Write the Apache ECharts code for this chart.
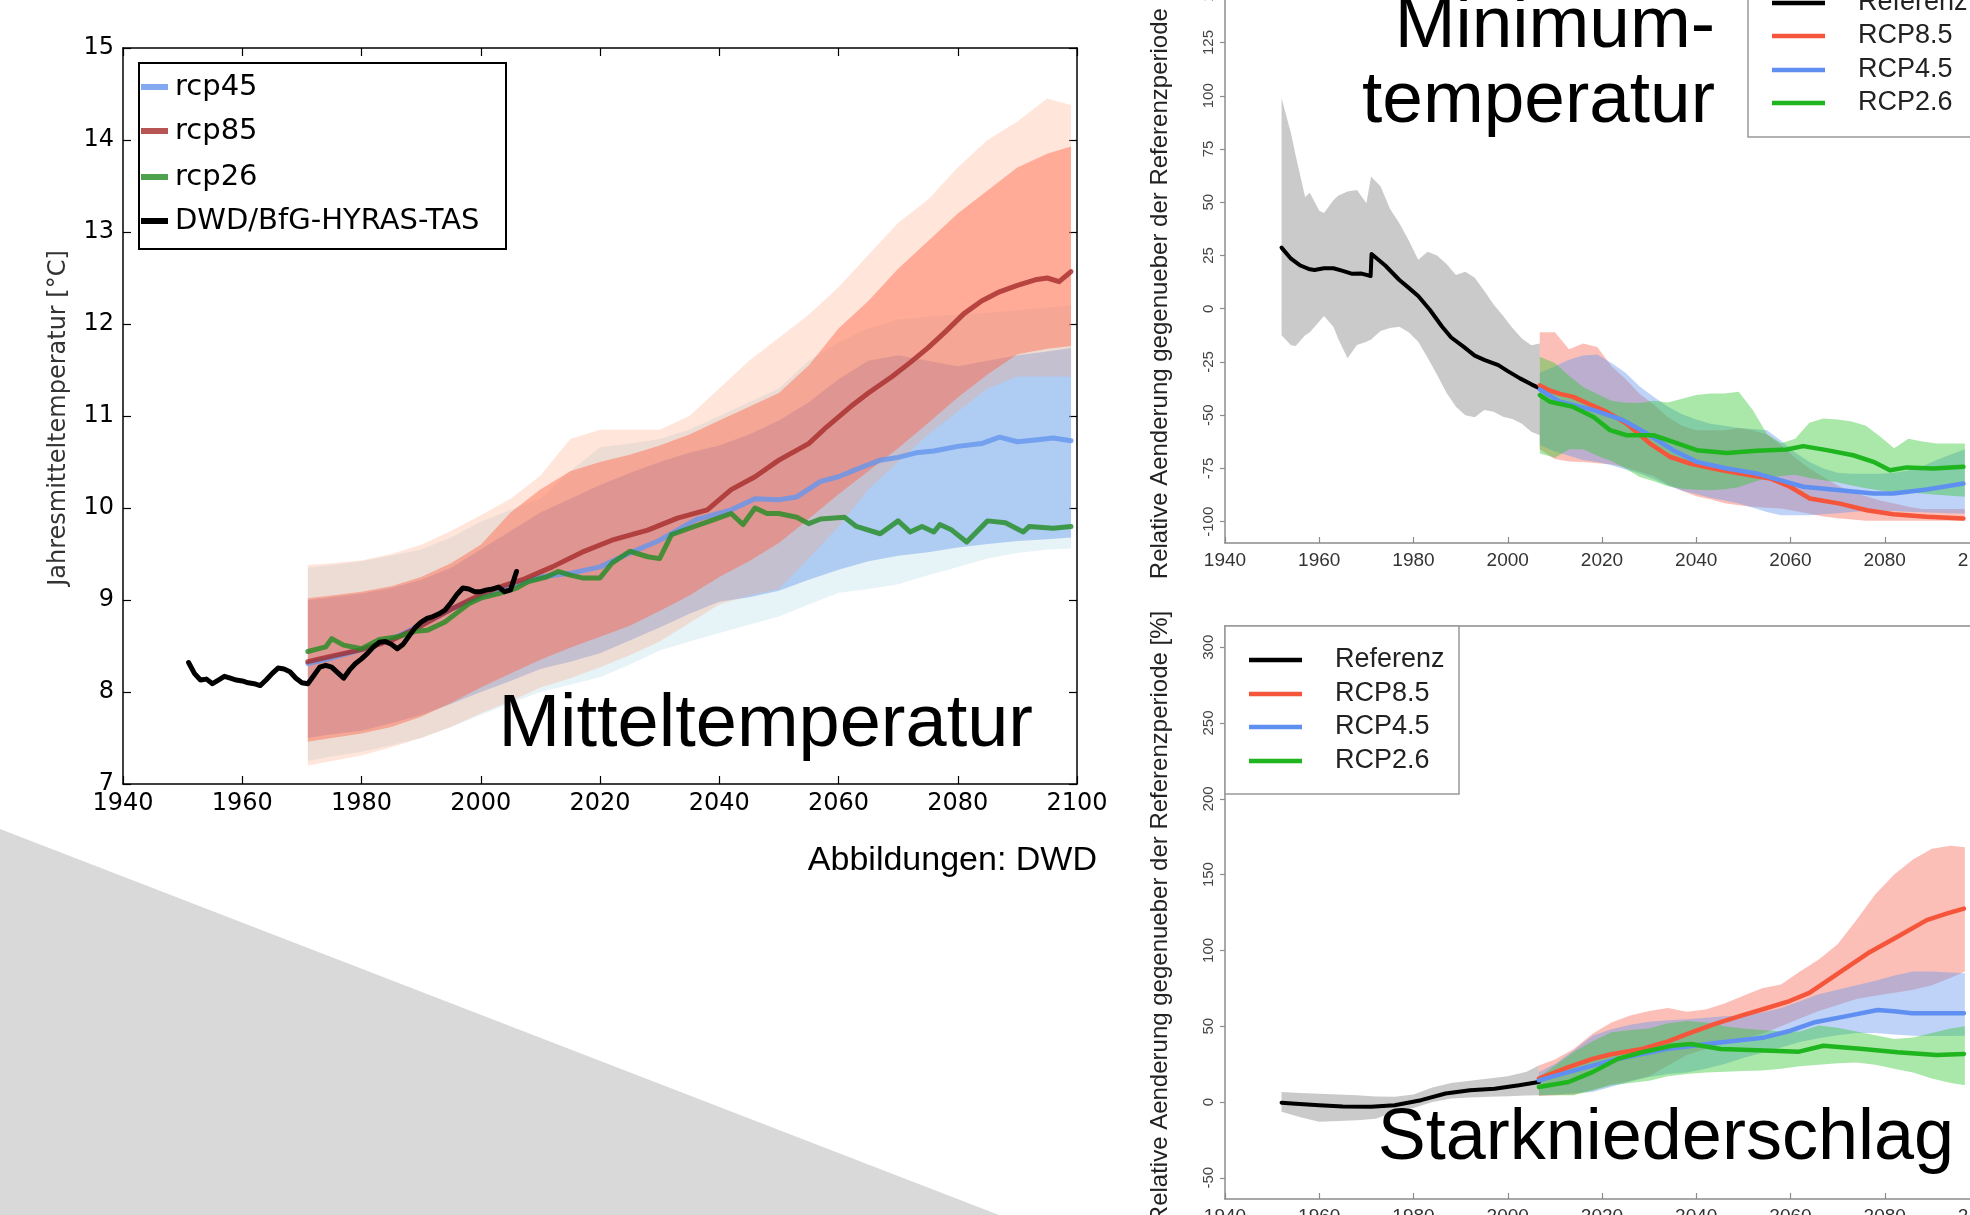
<!DOCTYPE html>
<html><head><meta charset="utf-8">
<script src="https://cdn.jsdelivr.net/npm/echarts@6/dist/echarts.min.js"></script>
<style>html,body{margin:0;padding:0;background:#fff}#c{width:1970px;height:1215px}</style>
</head><body><div id="c"></div><script>
// ---------------- LEFT: Mitteltemperatur ----------------
const meanBandYears = [1971,1975,1980,1985,1990,1995,2000,2005,2010,2015,2020,2025,2030,2035,2040,2045,2050,2055,2060,2065,2070,2075,2080,2085,2090,2095,2099];
const rcp85OuterLo = [7.20,7.25,7.31,7.40,7.50,7.62,7.77,7.90,8.05,8.15,8.27,8.40,8.55,8.75,8.95,9.05,9.12,9.45,9.80,10.20,10.50,10.80,11.05,11.30,11.43,11.43,11.43];
const rcp85OuterUp = [9.38,9.40,9.43,9.50,9.60,9.75,9.92,10.10,10.35,10.75,10.85,10.85,10.85,11.00,11.30,11.60,11.85,12.10,12.40,12.75,13.10,13.35,13.70,14.00,14.20,14.45,14.38];
const rcp85InnerLo = [7.46,7.50,7.55,7.62,7.73,7.88,8.05,8.20,8.35,8.48,8.60,8.72,8.88,9.05,9.25,9.42,9.62,9.88,10.15,10.40,10.65,10.92,11.20,11.45,11.67,11.73,11.76];
const rcp85InnerUp = [9.02,9.05,9.09,9.15,9.25,9.40,9.60,9.95,10.20,10.40,10.50,10.58,10.68,10.80,10.95,11.10,11.25,11.55,11.95,12.25,12.60,12.90,13.20,13.45,13.70,13.85,13.93];
const rcp45OuterLo = [7.25,7.30,7.35,7.42,7.50,7.62,7.75,7.88,8.00,8.08,8.16,8.30,8.45,8.55,8.64,8.73,8.82,8.95,9.08,9.12,9.17,9.27,9.36,9.45,9.51,9.55,9.56];
const rcp45OuterUp = [9.35,9.38,9.42,9.48,9.55,9.68,9.85,9.98,10.10,10.40,10.66,10.70,10.75,10.85,11.00,11.15,11.30,11.60,11.80,11.95,12.05,12.08,12.10,12.12,12.15,12.18,12.20];
const rcp45InnerLo = [7.50,7.54,7.58,7.66,7.75,7.87,8.00,8.12,8.25,8.33,8.42,8.56,8.70,8.85,8.98,9.03,9.10,9.22,9.33,9.42,9.48,9.52,9.57,9.61,9.64,9.66,9.68];
const rcp45InnerUp = [9.00,9.03,9.07,9.13,9.22,9.35,9.55,9.75,9.95,10.10,10.25,10.38,10.50,10.60,10.68,10.80,10.95,11.15,11.40,11.60,11.66,11.60,11.54,11.60,11.66,11.70,11.74];

const obsYears = [1951,1952,1953,1954,1955,1956,1957,1958,1959,1960,1961,1962,1963,1964,1965,1966,1967,1968,1969,1970,1971,1972,1973,1974,1975,1976,1977,1978,1979,1980,1981,1982,1983,1984,1985,1986,1987,1988,1989,1990,1991,1992,1993,1994,1995,1996,1997,1998,1999,2000,2001,2002,2003,2004,2005,2006];
const obsTemp = [8.32,8.20,8.13,8.14,8.09,8.13,8.17,8.15,8.13,8.12,8.10,8.09,8.07,8.13,8.20,8.26,8.25,8.22,8.15,8.10,8.09,8.18,8.27,8.29,8.27,8.21,8.15,8.24,8.31,8.36,8.42,8.49,8.54,8.55,8.52,8.47,8.52,8.61,8.70,8.76,8.80,8.82,8.85,8.89,8.97,9.06,9.13,9.12,9.09,9.09,9.11,9.12,9.14,9.09,9.11,9.31];

const rcp85Years = [1971,1975,1980,1985,1990,1995,2000,2004,2007,2012,2017,2022,2028,2033,2038,2042,2046,2050,2055,2058,2062,2065,2069,2072,2075,2078,2081,2084,2087,2090,2093,2095,2097,2099];
const rcp85Temp  = [8.33,8.39,8.46,8.56,8.72,8.90,9.06,9.16,9.22,9.36,9.52,9.65,9.76,9.89,9.98,10.20,10.34,10.52,10.70,10.88,11.10,11.25,11.43,11.58,11.74,11.92,12.11,12.25,12.35,12.42,12.48,12.50,12.46,12.57];
const rcp45Years = [1971,1975,1980,1985,1990,1995,2000,2005,2010,2015,2020,2025,2030,2036,2042,2046,2050,2053,2057,2060,2063,2067,2070,2073,2076,2080,2084,2087,2090,2093,2096,2099];
const rcp45Temp  = [8.31,8.37,8.46,8.57,8.73,8.90,9.04,9.15,9.25,9.29,9.36,9.51,9.65,9.87,9.98,10.10,10.09,10.12,10.29,10.34,10.42,10.52,10.55,10.60,10.62,10.67,10.70,10.77,10.72,10.74,10.76,10.73];
const rcp26Years = [1971,1974,1975,1977,1980,1983,1986,1989,1991,1994,1996,1998,2000,2003,2006,2008,2011,2013,2015,2017,2020,2022,2025,2028,2030,2032,2035,2039,2042,2044,2046,2048,2050,2053,2055,2057,2061,2063,2067,2070,2072,2074,2076,2077,2079,2081.5,2085,2088,2091,2092,2096,2099];
const rcp26Temp  = [8.44,8.49,8.58,8.51,8.47,8.57,8.60,8.66,8.67,8.76,8.86,8.96,9.02,9.07,9.13,9.20,9.25,9.31,9.27,9.24,9.24,9.40,9.53,9.47,9.45,9.71,9.78,9.87,9.94,9.82,10.00,9.94,9.94,9.90,9.83,9.88,9.90,9.80,9.72,9.86,9.74,9.80,9.74,9.82,9.76,9.63,9.86,9.84,9.74,9.80,9.78,9.80];

// ---------------- RIGHT TOP: Minimumtemperatur ----------------
const minRefYears = [1952,1954,1956,1958,1959,1961,1963,1965,1967,1969,1970.9,1971.1,1974,1977,1979,1981,1983.5,1986,1988,1990.6,1993,1995,1998,2000,2002.6,2005,2006.8];
const minRef      = [28.7,23.5,20.3,18.5,18.2,19.0,19.0,17.8,16.4,16.5,15.4,25.7,20.3,13.5,9.8,6.0,-0.6,-8.2,-13.5,-17.8,-22.0,-24.0,-26.5,-29.3,-32.7,-35.5,-37.4];
const minRefBandYears = [1952,1954,1955,1957,1958,1960,1961,1963,1964,1966,1968,1970,1971,1973,1975,1977,1979,1981,1983,1985,1987,1989,1991,1993,1995,1997,1999,2001,2003,2005,2006.8];
const minRefUp = [98.9,82.4,72.0,52.5,54.5,46.0,45.0,51.0,53.0,55.0,55.8,49.5,62.0,57.5,47.0,40.1,32.0,23.0,26.8,25.0,21.0,15.8,17.4,14.5,8.5,2.0,-3.3,-9.0,-14.0,-17.1,-16.3];
const minRefLo = [-12.4,-17.1,-17.5,-12.4,-11.0,-6.0,-3.4,-8.5,-14.0,-23.3,-17.0,-15.5,-14.5,-10.5,-9.0,-8.5,-11.0,-15.5,-23.0,-31.0,-39.5,-46.0,-50.0,-51.0,-47.5,-48.4,-50.7,-51.8,-54.0,-57.8,-59.4];

const minProjYears = [2006.8,2010,2013,2016,2019,2022,2025,2028,2031,2034,2037,2040,2043,2046,2049,2052,2055,2058,2061,2064,2067,2070,2073,2076,2079,2082,2085,2088,2091,2094,2097];
const min85Up = [-11,-11,-19,-16.3,-18,-27,-33,-40,-45,-51,-55,-57,-57,-57,-56,-57,-59,-64,-70,-75,-79,-83,-86,-88,-90,-91.5,-93,-94,-94,-94,-94];
const min85Lo = [-66,-70.5,-71.7,-72,-72.5,-73,-74.5,-76.5,-78.5,-82.5,-85.5,-88,-89.5,-91.3,-92.3,-93,-93.4,-93.8,-95,-96.3,-97.5,-98.4,-99,-99.5,-99.6,-99.6,-99.6,-99.6,-99.6,-99.6,-99.6];
const min45Up = [-30,-27,-24,-22,-21.5,-25.5,-30,-36.5,-41.5,-46,-49.5,-52,-54,-55,-56,-56.5,-57,-62,-67.5,-72,-75,-77,-77.5,-77.5,-77.5,-77,-76,-74,-71,-68.5,-66];
const min45Lo = [-64,-67,-69,-71,-72,-73.5,-75.5,-77.4,-80,-83,-85.5,-87,-88.7,-90,-91.5,-93.5,-95.5,-97,-97,-97,-96.5,-96,-95.5,-95,-95,-95,-95.3,-95.6,-95.8,-96,-96.1];
const min26Up = [-22.5,-25.5,-31.5,-36.7,-40,-43.2,-44.2,-44.3,-43.2,-44,-42.3,-40.5,-39.8,-39.8,-39,-47.6,-58.8,-63.2,-61,-53.5,-51.5,-52,-53,-55,-60,-65.5,-61,-62.3,-63.3,-63.3,-63.3];
const min26Lo = [-68,-70,-66,-66,-69,-71.5,-75,-79,-81,-83.3,-84.5,-85,-85.2,-84.8,-83.8,-81.5,-79.5,-78.5,-78,-79.5,-80.5,-81.5,-83,-84.3,-85.3,-86,-86.3,-86.8,-87.3,-87.8,-88.3];

const min85Years = [2006.8,2009,2011.1,2013.9,2017,2021,2025.2,2030.2,2034.4,2038.7,2043.6,2049.3,2055.7,2059.9,2064.1,2070.5,2076.2,2081.8,2088.9,2096.7];
const min85 = [-36,-38.5,-40,-41.4,-44.5,-48.4,-53.9,-63.3,-69.5,-72.7,-75.0,-77.4,-79.7,-83.6,-89.1,-91.5,-94.6,-96.5,-97.7,-98.5];
const min45Years = [2006.8,2011.1,2018.2,2024.5,2029.5,2035.1,2040.1,2046.5,2052.8,2057.8,2062.7,2070.5,2077.6,2081.8,2088.9,2096.7];
const min45 = [-37.9,-43.7,-47.6,-52.3,-58.6,-66.4,-71.9,-75.0,-77.4,-80.5,-83.6,-85.2,-86.8,-86.8,-84.9,-82.1];
const min26Years = [2006.8,2009,2013.9,2018.2,2021.7,2025.2,2030.9,2035.1,2040.1,2046.5,2052.8,2059.2,2062.7,2067.7,2073.3,2077.6,2081.1,2084.7,2090.3,2096.7];
const min26 = [-40.6,-43.7,-46.1,-50.8,-57.0,-59.4,-59.4,-62.5,-66.4,-67.7,-66.7,-66.1,-64.5,-66.4,-68.8,-71.9,-75.8,-74.5,-75.0,-74.2];
const minYTicks = [-100,-75,-50,-25,0,25,50,75,100,125,150];

// ---------------- RIGHT BOTTOM: Starkniederschlag ----------------
const preRefYears = [1952,1955,1960,1965,1971,1976,1981.6,1986.8,1992,1997.2,2002.4,2006.6];
const preRef = [-0.5,-1.2,-2.1,-2.9,-3.2,-2.1,1.2,5.6,7.7,8.8,11.0,13.2];
const preRefBandYears = [1952,1956,1960,1964,1968,1972,1976,1980,1984,1988,1992,1996,2000,2004,2006.6];
const preRefUp = [6.6,6.0,5.5,5.0,4.5,3.6,3.4,5.0,9.5,12.5,14.0,15.5,17.0,20.0,24.1];
const preRefLo = [-6.4,-10,-13,-12.5,-12,-11,-6.4,-4,0,2.3,3.0,3.4,3.8,4.2,4.5];

const preProjYears = [2006.6,2010,2014,2018,2022,2026,2030,2034,2038,2042,2046,2050,2054,2058,2062,2066,2070,2074,2078,2082,2086,2090,2094,2097];
const pre85Up = [24,28,35,45,52.5,57,60,62,59.5,61,65,70,75,77.5,86,94,104,120,137,150,160,167,169,168];
const pre85Lo = [4,4.5,5,8,11.5,14,17,24,31,35,39,42,45,50,55,60,64,68,70,72,74,77,82,86];
const pre45Up = [19.7,25,34,43.7,48,51,53,54,54.5,55.5,56.5,57,59,62,66.5,71,74,77,80,83.5,86,86,85.5,85];
const pre45Lo = [4.5,5,5.8,6.6,10,13.5,16.5,18.5,19.5,22,25,29,32.5,36,39.5,42,44,45.5,45.5,44.5,43.7,43.5,43.5,43.7];
const pre26Up = [16.5,24,33,40,46,47.5,48.5,52,53.5,52.5,50,48.5,47.5,46.5,46.5,50.5,49,46.5,44,41.5,42.5,45.5,48.5,50];
const pre26Lo = [4.5,4.5,4.5,7.5,11,12.5,14,17,18.5,19.5,20,20.5,20.8,22,23.5,24.5,25.5,26,24.5,22,19.5,15.5,12.5,11];

const pre85Years = [2006.6,2012.9,2018,2022,2028.5,2034,2039,2044,2049.4,2054.5,2059.8,2064,2070.2,2076.4,2082.7,2088.9,2093.1,2096.8];
const pre85 = [15.4,23.0,28.4,31.5,35,40,45.9,51.5,56.8,61.5,66.6,72,85,98.1,109,120,124.3,127.6];
const pre45Years = [2006.6,2012.9,2023.3,2033.7,2044.1,2054.5,2060,2064.9,2072.2,2078.5,2082,2085.8,2096.8];
const pre45 = [14.3,19.7,28.4,35,38.9,42.6,47,52.4,56.8,60.7,59.8,58.5,58.5];
const pre26Years = [2006.6,2012.9,2018,2023.3,2028.5,2034.8,2038.9,2045.2,2054.5,2061.8,2067,2075.4,2082.7,2091,2096.8];
const pre26 = [9.9,13.2,19.7,28.4,32.8,37.1,38.2,35.0,33.9,33.2,37.1,35.0,32.8,31.0,31.7];
const preYTicks = [-50,0,50,100,150,200,250,300];

// ---------------- build ----------------
const P = (xs, ys) => xs.map((x, i) => [x, ys[i]]);
function band(xi, yi, xs, lo, hi, color, id) {
  return {type:'custom', name:id, xAxisIndex:xi, yAxisIndex:yi, data:P(xs, lo), silent:true, clip:true, z:2,
    renderItem:function (params, api) {
      if (params.dataIndex !== 0) return null;
      const pts = [];
      for (let i = 0; i < xs.length; i++) pts.push(api.coord([xs[i], hi[i]]));
      for (let i = xs.length - 1; i >= 0; i--) pts.push(api.coord([xs[i], lo[i]]));
      return {type:'polygon', shape:{points:pts}, style:{fill:color, stroke:null}};
    }};
}
function line(xi, yi, xs, ys, color, w, op, name, z) {
  return {type:'line', name:name, xAxisIndex:xi, yAxisIndex:yi, data:P(xs, ys), symbol:'none',
    lineStyle:{color:color, width:w, opacity:op, cap:'round', join:'round'}, silent:true, z:z};
}

const series = [];
series.push(band(0,0, meanBandYears, rcp45OuterLo, rcp45OuterUp, 'rgba(173,216,230,0.30)', 'rcp45o'));
series.push(band(0,0, meanBandYears, rcp45InnerLo, rcp45InnerUp, 'rgba(100,149,237,0.42)', 'rcp45i'));
series.push(band(0,0, meanBandYears, rcp85OuterLo, rcp85OuterUp, 'rgba(255,160,122,0.28)', 'rcp85o'));
series.push(band(0,0, meanBandYears, rcp85InnerLo, rcp85InnerUp, 'rgba(255,99,71,0.45)', 'rcp85i'));
series.push(line(0,0, rcp45Years, rcp45Temp, '#6495ed', 5, 0.8, 'rcp45', 3));
series.push(line(0,0, rcp85Years, rcp85Temp, '#a52a2a', 5, 0.8, 'rcp85', 3));
series.push(line(0,0, rcp26Years, rcp26Temp, '#228b22', 5, 0.8, 'rcp26', 3));
series.push(line(0,0, obsYears, obsTemp, '#000000', 5, 1, 'DWD/BfG-HYRAS-TAS', 4));

series.push(band(2,2, minRefBandYears, minRefLo, minRefUp, 'rgba(150,150,150,0.5)', 'minref'));
series.push(band(2,2, minProjYears, min85Lo, min85Up, 'rgba(250,128,114,0.5)', 'min85'));
series.push(band(2,2, minProjYears, min45Lo, min45Up, 'rgba(100,149,237,0.42)', 'min45'));
series.push(band(2,2, minProjYears, min26Lo, min26Up, 'rgba(50,200,50,0.42)', 'min26'));
series.push(line(2,2, minRefYears, minRef, '#000', 4, 1, 'Referenz', 4));
series.push(line(2,2, min85Years, min85, '#f5553a', 4.5, 1, 'RCP8.5', 4));
series.push(line(2,2, min45Years, min45, '#5f8ff0', 4.5, 1, 'RCP4.5', 4));
series.push(line(2,2, min26Years, min26, '#1fb51f', 4.5, 1, 'RCP2.6', 4));

series.push(band(4,4, preRefBandYears, preRefLo, preRefUp, 'rgba(150,150,150,0.5)', 'preref'));
series.push(band(4,4, preProjYears, pre85Lo, pre85Up, 'rgba(250,128,114,0.5)', 'pre85'));
series.push(band(4,4, preProjYears, pre45Lo, pre45Up, 'rgba(100,149,237,0.42)', 'pre45'));
series.push(band(4,4, preProjYears, pre26Lo, pre26Up, 'rgba(50,200,50,0.42)', 'pre26'));
series.push(line(4,4, preRefYears, preRef, '#000', 4, 1, 'Referenz', 4));
series.push(line(4,4, pre85Years, pre85, '#f5553a', 4.5, 1, 'RCP8.5', 4));
series.push(line(4,4, pre45Years, pre45, '#5f8ff0', 4.5, 1, 'RCP4.5', 4));
series.push(line(4,4, pre26Years, pre26, '#1fb51f', 4.5, 1, 'RCP2.6', 4));

const LF = 'DejaVu Sans';
const RF = 'Liberation Sans';
const yearFmt = v => String(v);
function leftX(pos, labels) {
  return {type:'value', gridIndex:0, position:pos, min:1940, max:2100, interval:20,
    axisLine:{onZero:false, lineStyle:{color:'#000', width:1.5}},
    axisTick:{show:true, inside:true, length:8, lineStyle:{color:'#000', width:1.2}},
    axisLabel:{show:labels, formatter:yearFmt, fontFamily:LF, fontSize:24, color:'#000', margin:8},
    splitLine:{show:false}};
}
function leftY(pos, labels) {
  return {type:'value', gridIndex:0, position:pos, min:7, max:15, interval:1,
    axisLine:{onZero:false, lineStyle:{color:'#000', width:1.5}},
    axisTick:{show:true, inside:true, length:8, lineStyle:{color:'#000', width:1.2}},
    axisLabel:{show:labels, fontFamily:LF, fontSize:24, color:'#000', margin:9},
    splitLine:{show:false}};
}
function rightX(g, pos, main) {
  return {type:'value', gridIndex:g, position:pos, min:1940, max:2100, interval:20,
    axisLine:{onZero:false, lineStyle:{color:'#8c8c8c', width:1.5}},
    axisTick:{show:main, inside:true, length:6, lineStyle:{color:'#8c8c8c', width:1.2}},
    axisLabel:{show:main, formatter:yearFmt, fontFamily:RF, fontSize:19, color:'#333', margin:8},
    splitLine:{show:false}};
}
function rightY(g, pos, main, mn, mx, ticks) {
  return {type:'value', gridIndex:g, position:pos, min:mn, max:mx,
    axisLine:{onZero:false, lineStyle:{color:'#8c8c8c', width:1.5}},
    axisTick:{show:main, inside:false, length:5, customValues:ticks, lineStyle:{color:'#8c8c8c', width:1.2}},
    axisLabel:{show:main, rotate:90, customValues:ticks, fontFamily:RF, fontSize:15, color:'#444', margin:9},
    splitLine:{show:false}};
}

const T = (x, y, text, size, fam, color, align, rot, z) => ({
  type:'text', x:x, y:y, rotation:rot || 0, z:z || 100,
  style:{text:text, fontSize:size, fontFamily:fam, fill:color,
    textAlign:align, align:align, textVerticalAlign:'middle', verticalAlign:'middle'}
});
const L = (x1, y1, x2, y2, color, w, op) => ({type:'line', z:101,
  shape:{x1:x1, y1:y1, x2:x2, y2:y2}, style:{stroke:color, lineWidth:w, opacity:op == null ? 1 : op}});
const R = (x, y, w, h, stroke, lw) => ({type:'rect', z:99, shape:{x:x, y:y, width:w, height:h},
  style:{fill:'#fff', stroke:stroke, lineWidth:lw}});

const leftLegend = [['rcp45','#6495ed',0.8],['rcp85','#a52a2a',0.8],['rcp26','#228b22',0.8],['DWD/BfG-HYRAS-TAS','#000',1]];
const leftLegendY = [87, 131, 177, 221];
const rightLegend = [['Referenz','#000'],['RCP8.5','#f5553a'],['RCP4.5','#5f8ff0'],['RCP2.6','#1fb51f']];

const graphic = [];
graphic.push({type:'polygon', z:-10, shape:{points:[[0,829],[0,1215],[999,1215]]}, style:{fill:'#d9d9d9'}});
graphic.push(R(139, 63, 367, 186, '#000', 2));
leftLegend.forEach((e, i) => {
  graphic.push(L(141, leftLegendY[i], 168, leftLegendY[i], e[1], 6, e[2]));
  graphic.push(T(175, leftLegendY[i], e[0], 29, LF, '#000', 'left', 0, 102));
});
graphic.push(T(59, 418, 'Jahresmitteltemperatur [°C]', 24, LF, '#333', 'center', Math.PI / 2));
graphic.push(T(1033, 726, 'Mitteltemperatur', 74, RF, '#000', 'right'));
graphic.push(T(1097, 861, 'Abbildungen: DWD', 34, RF, '#000', 'right'));
graphic.push(R(1748, -20, 260, 157, '#999', 1.5));
[3, 36, 70, 103].forEach((y, i) => {
  graphic.push(L(1772, y, 1825, y, rightLegend[i][1], 4.5));
  graphic.push(T(1858, y, rightLegend[i][0], 27, RF, '#222', 'left', 0, 102));
});
graphic.push(T(1715, 27, 'Minimum-', 73, RF, '#000', 'right'));
graphic.push(T(1715, 102, 'temperatur', 73, RF, '#000', 'right'));
graphic.push(T(1160, 273, 'Relative Aenderung gegenueber der Referenzperiode [%]', 24, RF, '#222', 'center', Math.PI / 2));
graphic.push(R(1225, 626, 234, 168, '#999', 1.5));
[660, 694, 727, 761].forEach((y, i) => {
  graphic.push(L(1249, y, 1302, y, rightLegend[i][1], 4.5));
  graphic.push(T(1335, y, rightLegend[i][0], 27, RF, '#222', 'left', 0, 102));
});
graphic.push(T(1954, 1139, 'Starkniederschlag', 72, RF, '#000', 'right'));
graphic.push(T(1160, 917, 'Relative Aenderung gegenueber der Referenzperiode [%]', 24, RF, '#222', 'center', Math.PI / 2));

const chart = echarts.init(document.getElementById('c'), null, {renderer:'canvas', width:1970, height:1215});
chart.setOption({
  animation:false,
  backgroundColor:'#ffffff',
  grid:[
    {left:123, top:48, width:954, height:736, containLabel:false, outerBoundsMode:'none'},
    {left:1225, top:-32, width:754, height:575, containLabel:false, outerBoundsMode:'none'},
    {left:1225, top:626, width:754, height:573, containLabel:false, outerBoundsMode:'none'}
  ],
  xAxis:[leftX('bottom', true), leftX('top', false),
         rightX(1, 'bottom', true), rightX(1, 'top', false),
         rightX(2, 'bottom', true), rightX(2, 'top', false)],
  yAxis:[leftY('left', true), leftY('right', false),
         rightY(1, 'left', true, -110, 160, minYTicks), rightY(1, 'right', false, -110, 160, minYTicks),
         rightY(2, 'left', true, -64, 314, preYTicks), rightY(2, 'right', false, -64, 314, preYTicks)],
  series:series,
  graphic:graphic
});
</script></body></html>
